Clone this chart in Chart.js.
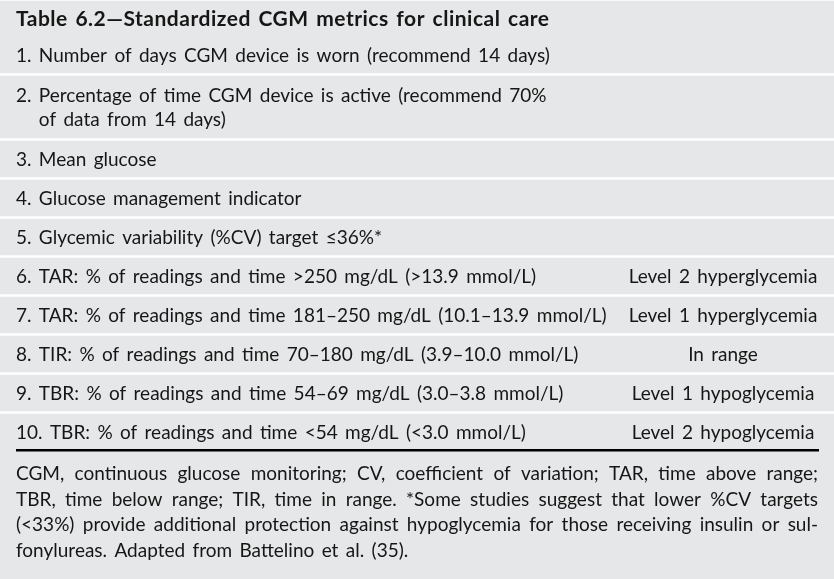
<!DOCTYPE html>
<html><head><meta charset="utf-8">
<script src="https://cdn.jsdelivr.net/npm/chart.js@4"></script>
<style>html,body{margin:0;padding:0;background:#fff;overflow:hidden}#wrap{width:834px;height:579px}</style>
</head><body><div id="wrap"><canvas id="c" width="834" height="579"></canvas></div>
<script>
// ---------- data ----------
const tableTitle = "Table 6.2\u2014Standardized CGM metrics for clinical care";
const metricNames = [
  ["1. Number of days CGM device is worn (recommend 14 days)"],
  ["2. Percentage of time CGM device is active (recommend 70%", "of data from 14 days)"],
  ["3. Mean glucose"],
  ["4. Glucose management indicator"],
  ["5. Glycemic variability (%CV) target \u226436%*"],
  ["6. TAR: % of readings and time >250 mg/dL (>13.9 mmol/L)"],
  ["7. TAR: % of readings and time 181\u2013250 mg/dL (10.1\u201313.9 mmol/L)"],
  ["8. TIR: % of readings and time 70\u2013180 mg/dL (3.9\u201310.0 mmol/L)"],
  ["9. TBR: % of readings and time 54\u201369 mg/dL (3.0\u20133.8 mmol/L)"],
  ["10. TBR: % of readings and time <54 mg/dL (<3.0 mmol/L)"]
];
const rangeLabels = ["", "", "", "", "", "Level 2 hyperglycemia", "Level 1 hyperglycemia", "In range", "Level 1 hypoglycemia", "Level 2 hypoglycemia"];
const footnoteLines = [
  "CGM, continuous glucose monitoring; CV, coefficient of variation; TAR, time above range;",
  "TBR, time below range; TIR, time in range. *Some studies suggest that lower %CV targets",
  "(<33%) provide additional protection against hypoglycemia for those receiving insulin or sul-",
  "fonylureas. Adapted from Battelino et al. (35)."
];

// ---------- layout (style) ----------
const W = 834, H = 579;
const GRAY = 'rgb(230,231,232)';
const TEXT = '#161616';
const SEP = 3, LINE_H = 26, PAD = 10, TITLE_H = 36, TOP = 1;
const LEFT = 16, RIGHT = 818, COL2 = 723;
const BODY_FONT = '19px Lato', TITLE_FONT = 'bold 21px Lato';
const CAP_OFF = 7, INNER_LH = 24, FOOT_LH = 25.6;

// compute row bands (in y-scale units) from number of lines in each row
const bands = [];
let y = TOP + TITLE_H;
metricNames.forEach((lines, i) => {
  const h = lines.length * LINE_H + PAD;
  bands.push({top: y, bottom: y + h});
  y += h + SEP;
});
const tableBottom = bands[bands.length - 1].bottom;

// gray background bars (title merged with row 1, last band extends to the foot)
const bgBars = bands.map((b, i) => {
  const top = i === 0 ? TOP : b.top;
  const bottom = i === bands.length - 1 ? H : b.bottom;
  return {x: [0, W], y: (top + bottom) / 2, h: bottom - top};
});

const tablePlugin = {
  id: 'tableText',
  afterDatasetsDraw(chart) {
    const c = chart.ctx, xs = chart.scales.x, ys = chart.scales.y;
    c.save();
    c.fillStyle = TEXT;
    c.textBaseline = 'alphabetic';
    // title
    c.font = TITLE_FONT; c.textAlign = 'left';
    c.letterSpacing = '0.5px'; c.wordSpacing = '2px';
    c.fillText(tableTitle, xs.getPixelForValue(LEFT), ys.getPixelForValue(TOP + TITLE_H / 2 + CAP_OFF));
    // rows
    c.font = BODY_FONT;
    c.letterSpacing = '0px'; c.wordSpacing = '2.5px';
    metricNames.forEach((lines, i) => {
      const b = bands[i];
      const mid = (b.top + b.bottom) / 2;
      const indent = c.measureText(lines[0].split(' ')[0] + ' ').width;
      lines.forEach((t, j) => {
        const yy = mid + CAP_OFF + (j - (lines.length - 1) / 2) * INNER_LH;
        c.textAlign = 'left';
        c.fillText(t, xs.getPixelForValue(LEFT + (j > 0 ? indent : 0)), ys.getPixelForValue(yy));
      });
      if (rangeLabels[i]) {
        c.textAlign = 'center';
        c.fillText(rangeLabels[i], xs.getPixelForValue(COL2), ys.getPixelForValue(mid + CAP_OFF));
      }
    });
    // bottom rule
    c.fillStyle = '#000';
    c.fillRect(xs.getPixelForValue(LEFT), ys.getPixelForValue(tableBottom - 1), xs.getPixelForValue(RIGHT + 1) - xs.getPixelForValue(LEFT), 2.5);
    // footnote (justified)
    c.fillStyle = TEXT; c.textAlign = 'left';
    c.wordSpacing = '0px';
    footnoteLines.forEach((t, j) => {
      const yy = ys.getPixelForValue(tableBottom + 30 + j * FOOT_LH);
      const x0 = xs.getPixelForValue(LEFT), x1 = xs.getPixelForValue(RIGHT);
      const words = t.split(' ');
      if (j === footnoteLines.length - 1) {
        c.wordSpacing = '2.5px'; c.fillText(t, x0, yy); c.wordSpacing = '0px'; return;
      }
      const total = words.reduce((s, w) => s + c.measureText(w).width, 0);
      const gap = (x1 - x0 - total) / (words.length - 1);
      let xx = x0;
      words.forEach(w => { c.fillText(w, xx, yy); xx += c.measureText(w).width + gap; });
    });
    c.restore();
  }
};

const datasets = bgBars.map(b => ({
  data: [{x: b.x, y: b.y}],
  backgroundColor: GRAY,
  borderWidth: 0,
  barThickness: b.h,
  grouped: false
}));

document.fonts.load(BODY_FONT).then(() => document.fonts.load(TITLE_FONT)).then(draw, draw);
function draw() {
  new Chart(document.getElementById('c'), {
    type: 'bar',
    data: {datasets},
    options: {
      indexAxis: 'y',
      responsive: false,
      animation: false,
      devicePixelRatio: 1,
      layout: {padding: 0},
      plugins: {legend: {display: false}, tooltip: {enabled: false}},
      scales: {
        x: {type: 'linear', min: 0, max: W, display: false, offset: false, grace: 0},
        y: {type: 'linear', min: 0, max: H, reverse: true, display: false, offset: false, grace: 0}
      }
    },
    plugins: [tablePlugin]
  });
}
</script>
</body></html>
